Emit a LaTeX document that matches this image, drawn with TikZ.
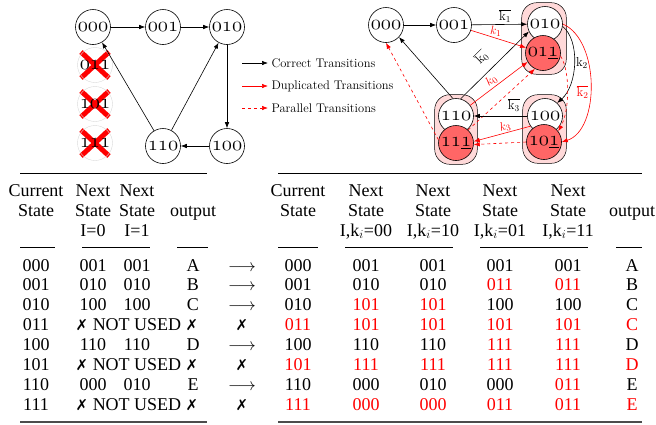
\documentclass[tikz,border=0pt]{standalone}
\usepackage{fontspec}
\newfontfamily\tabfont{Liberation Serif}
\newfontfamily\dingfont{DejaVu Sans}
\usetikzlibrary{fit,backgrounds,arrows.meta}
\newcommand{\osf}[1]{{\usefont{OML}{lmm}{m}{it}#1}}
\newcommand{\R}[1]{\textcolor{red}{#1}}
\newcommand{\nope}{{\dingfont\fontsize{15}{15}\selectfont ✗}}

\begin{document}
\begin{tikzpicture}[x=1pt,y=-1pt,>={Latex[length=6pt,width=4.5pt]},
  state/.style={circle,draw,line width=0.6pt,fill=white,minimum size=35pt,inner sep=0pt,font=\fontsize{19.5}{19.5}\selectfont},
  twin/.style={state,fill=red!60},
  gone/.style={circle,draw=black!15,minimum size=35pt,inner sep=0pt,font=\fontsize{19.5}{19.5}\selectfont},
  blob/.style={draw,line width=0.5pt,fill=red!15,rounded corners=15pt,inner sep=3.5pt},
  ok/.style={->,line width=0.6pt},
  dup/.style={->,line width=0.6pt,red},
  par/.style={->,line width=0.6pt,red,dashed},
  cross/.style={red,line width=5pt},
  lbl/.style={font=\fontsize{13}{13}\selectfont,inner sep=1.5pt},
  legend/.style={anchor=west,font=\fontsize{12.5}{14}\selectfont},
  cell/.style={font=\tabfont\fontsize{18}{20}\selectfont,inner sep=0pt,anchor=base},
  rule/.style={line width=0.8pt},
  endrule/.style={line width=1.3pt,black!70}]

\useasboundingbox (0,0) rectangle (656,424);

% ---- original machine ----
\node[state] (l000) at (93,27) {\osf{000}};
\node[state] (l001) at (163,27) {\osf{001}};
\node[state] (l010) at (227,27) {\osf{010}};
\node[state] (l100) at (227,146) {\osf{100}};
\node[state] (l110) at (163,146) {\osf{110}};
\node[gone] (x011) at (95,65) {\osf{011}};
\node[gone] (x101) at (95,104) {\osf{101}};
\node[gone] (x111) at (95,143) {\osf{111}};
\begin{scope}[on background layer]
  \foreach \n in {x011,x101,x111}{
    \draw[cross] ([shift={(-14,-13)}]\n.center) -- ([shift={(14,13)}]\n.center);
    \draw[cross] ([shift={(-14,13)}]\n.center) -- ([shift={(14,-13)}]\n.center);
  }
\end{scope}

\draw[ok] (l000) -- (l001);
\draw[ok] (l001) -- (l010);
\draw[ok] (l010) -- (l100);
\draw[ok] (l100) -- (l110);
\draw[ok] (l110) -- (l000);
\draw[ok] (l110) -- (l010);

% ---- legend ----
\coordinate (k1) at (242,63);
\coordinate (k2) at (242,86);
\coordinate (k3) at (242,108);
\node[legend] (t1) at (268,63) {Correct Transitions};
\node[legend] (t2) at (268,86) {Duplicated Transitions};
\node[legend] (t3) at (268,108) {Parallel Transitions};
\draw[ok] (k1) -- (t1.west);
\draw[dup] (k2) -- (t2.west);
\draw[par] (k3) -- (t3.west);

% ---- duplicated machine ----
\node[state] (r000) at (386,25) {\osf{000}};
\node[state] (r001) at (454,25) {\osf{001}};
\node[state] (r010) at (545,24) {\osf{010}};
\node[twin] (r011) at (543,53) {\osf{01\underline{1}}};
\node[state] (r100) at (545,116) {\osf{100}};
\node[twin] (r101) at (544,142) {\osf{10\underline{1}}};
\node[state] (r110) at (456,116) {\osf{110}};
\node[twin] (r111) at (456,143) {\osf{11\underline{1}}};
\begin{scope}[on background layer]
  \node[blob,fit=(r010)(r011)] (g01) {};
  \node[blob,fit=(r100)(r101)] (g10) {};
  \node[blob,fit=(r110)(r111)] (g11) {};
\end{scope}

\draw[ok] (r000) -- (r001);
\draw[ok] (r001) -- node[lbl,above,pos=0.6]{$\overline{\mathrm{k}_1}$} (r010);
\draw[dup] (r001) -- node[lbl,above,pos=0.45,red]{$k_1$} (r011);
\draw[ok] (r110.100) -- (r000.-43);
\draw[ok] (r110.75) -- node[lbl,sloped,above=7pt,pos=0.46]{$\overline{\mathrm{k}_0}$} (r010.205);
\draw[dup] (r110.37) -- node[lbl,sloped,above,pos=0.44,red]{$k_0$} (r011.210);
\draw[par] (r111.47) -- (r011.243);
\draw[par] (r111.170) -- (r000.south);
\draw[ok] (r010.-8) .. controls (580,40) and (578,85) .. node[lbl,right]{$\mathrm{k}_2$} (r100.47);
\draw[dup] (r010.east) .. controls (600,40) and (600,130) .. node[lbl,left,pos=0.55,red]{$\overline{\mathrm{k}_2}$} (r101.east);
\draw[par] (r011.-10) .. controls (570,70) and (570,110) .. (r101.37);
\draw[ok] (r100) -- node[lbl,above=2.5pt,pos=0.25]{$\overline{\mathrm{k}_3}$} (r110);
\draw[dup] (r100.215) -- node[lbl,above,sloped,pos=0.42,red,inner sep=0.5pt]{$k_3$} (r111.5);
\draw[par] (r101.west) -- (r111.-5);

% ---- left table ----
\draw[rule] (20,173) -- (207,173);
\foreach \x/\a/\b/\c [count=\i] in {36/Current/State/, 93/Next/State/I=0, 137/Next/State/I=1, 193//output/}{
  \node[cell] (lha\i) at (\x,196) {\a};
  \node[cell] (lhb\i) at (\x,216) {\b};
  \node[cell] (lhc\i) at (\x,236) {\c};
}
\foreach \a/\b in {20/55, 82/150, 177/208}
  \draw[rule] (\a,247) -- (\b,247);
\foreach \r/\cur/\a/\b/\out in {1/000/001/001/A, 2/001/010/010/B, 3/010/100/100/C, 5/100/110/110/D, 7/110/000/010/E}{
  \node[cell] (lc\r) at (36,{271+19.9*(\r-1)}) {\cur};
  \node[cell] (la\r) at (93,{271+19.9*(\r-1)}) {\a};
  \node[cell] (lb\r) at (137,{271+19.9*(\r-1)}) {\b};
  \node[cell] (lo\r) at (193,{271+19.9*(\r-1)}) {\out};
  \node[cell] (go\r) at (242,{271+19.9*(\r-1)}) {$\longrightarrow$};
}
\foreach \r/\cur in {4/011, 6/101, 8/111}{
  \node[cell] (lc\r) at (36,{271+19.9*(\r-1)}) {\cur};
  \node[cell] (lx\r) at (137,{271+19.9*(\r-1)}) {\nope\ NOT USED \nope};
  \node[cell] (go\r) at (242,{271+19.9*(\r-1)}) {\nope};
}
\draw[endrule] (20,422) -- (207,422);

% ---- right table ----
\draw[rule] (278,173) -- (642,173);
\foreach \x/\a/\b/\c [count=\i] in {298/Current/State/, 366/Next/State/{I,k$_i$=00}, 433/Next/State/{I,k$_i$=10}, 500/Next/State/{I,k$_i$=01}, 568/Next/State/{I,k$_i$=11}, 632//output/}{
  \node[cell] (rha\i) at (\x,196) {\a};
  \node[cell] (rhb\i) at (\x,216) {\b};
  \node[cell] (rhc\i) at (\x,236) {\c};
}
\foreach \a/\b in {278/318, 345/453, 480/588, 616/642}
  \draw[rule] (\a,247) -- (\b,247);
\foreach \cur/\a/\b/\c/\d/\out [count=\r] in {
  000/001/001/001/001/A,
  001/010/010/\R{011}/\R{011}/B,
  010/\R{101}/\R{101}/100/100/C,
  \R{011}/\R{101}/\R{101}/\R{101}/\R{101}/\R{C},
  100/110/110/\R{111}/\R{111}/D,
  \R{101}/\R{111}/\R{111}/\R{111}/\R{111}/\R{D},
  110/000/010/000/\R{011}/E,
  \R{111}/\R{000}/\R{000}/\R{011}/\R{011}/\R{E}}{
  \node[cell] (rc\r) at (298,{271+19.9*(\r-1)}) {\cur};
  \node[cell] (ra\r) at (366,{271+19.9*(\r-1)}) {\a};
  \node[cell] (rb\r) at (433,{271+19.9*(\r-1)}) {\b};
  \node[cell] (rd\r) at (500,{271+19.9*(\r-1)}) {\c};
  \node[cell] (re\r) at (568,{271+19.9*(\r-1)}) {\d};
  \node[cell] (ro\r) at (632,{271+19.9*(\r-1)}) {\out};
}
\draw[endrule] (278,422) -- (642,422);
\end{tikzpicture}
\end{document}
